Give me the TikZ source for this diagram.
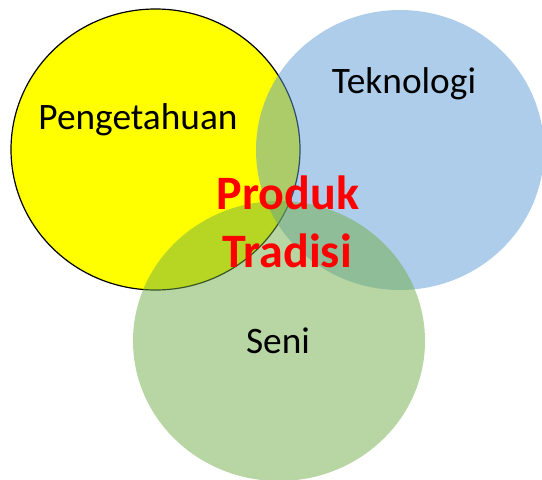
\documentclass[tikz,border=0pt]{standalone}
\usepackage{fontspec}
\setmainfont{Carlito}
\usepackage{tikz}
\usepackage{xcolor}
\definecolor{setyellow}{RGB}{255,255,0}
\definecolor{setblue}{HTML}{5B9BD5}
\definecolor{setgreen}{HTML}{70AD47}
\tikzset{settext/.style={inner sep=0pt, anchor=base, font=\fontsize{28}{32}\selectfont}}
\tikzset{midtext/.style={inner sep=0pt, anchor=base, text=red, font=\fontsize{36}{43}\selectfont\bfseries}}

\begin{document}
\begin{tikzpicture}[x=0.75pt, y=-0.75pt]
                        \useasboundingbox (0, 0) rectangle (542, 479);
                        \filldraw[fill=setyellow, draw=black, line width=0.9pt]
                        (155.5, 149.5) ellipse [x radius=144.5, y radius=140.5];
                        \fill[setblue, opacity=0.5]
                        (400, 150) ellipse [x radius=144, y radius=140];
                        \fill[setgreen, opacity=0.5]
                        (279, 341) ellipse [x radius=146, y radius=140];
                        \node[settext] (know) at (138, 129) {Pengetahuan};
                        \node[settext] (tech) at (404, 93) {Teknologi};
                        \node[settext] (art) at (278, 353) {Seni};
                        \node[midtext] (prod) at (288, 209) {Produk};
                        \node[midtext] (trad) at (287, 267) {Tradisi};
                    \end{tikzpicture}
\end{document}
